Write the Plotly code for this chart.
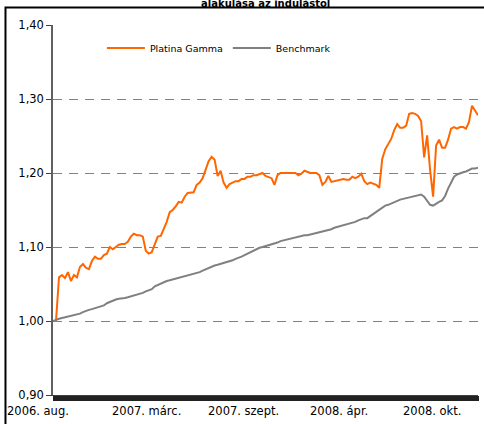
import pandas as pd
import plotly.graph_objects as go

# ---- data ----
start_date = "2006-08-16"
end_date = "2008-12-31"

platina_gamma = [
    1.000, 1.000, 1.059, 1.062, 1.058, 1.066, 1.054, 1.062, 1.059, 1.073,
    1.077, 1.072, 1.070, 1.081, 1.087, 1.084, 1.084, 1.089, 1.091, 1.100,
    1.097, 1.100, 1.103, 1.104, 1.104, 1.107, 1.114, 1.118, 1.116, 1.116,
    1.114, 1.095, 1.091, 1.093, 1.104, 1.114, 1.115, 1.124, 1.134, 1.147,
    1.150, 1.155, 1.161, 1.160, 1.168, 1.173, 1.173, 1.174, 1.184, 1.187,
    1.193, 1.205, 1.216, 1.222, 1.218, 1.196, 1.203, 1.187, 1.180, 1.185,
    1.187, 1.189, 1.189, 1.192, 1.192, 1.195, 1.195, 1.197, 1.197, 1.199,
    1.200, 1.196, 1.195, 1.193, 1.184, 1.197, 1.200, 1.200, 1.200, 1.201,
    1.200, 1.200, 1.197, 1.199, 1.203, 1.201, 1.200, 1.200, 1.200, 1.197,
    1.184, 1.188, 1.196, 1.188, 1.189, 1.191, 1.192, 1.192, 1.191, 1.191,
    1.195, 1.193, 1.195, 1.199, 1.189, 1.185, 1.187, 1.185, 1.184, 1.180,
    1.219, 1.232, 1.239, 1.246, 1.258, 1.266, 1.261, 1.261, 1.264, 1.280,
    1.281, 1.280, 1.277, 1.270, 1.221, 1.251, 1.204, 1.168, 1.237, 1.245,
    1.234, 1.234, 1.245, 1.260, 1.262, 1.260, 1.262, 1.262, 1.260, 1.269,
    1.291, 1.284, 1.278,
]

benchmark = [
    1.000, 1.002, 1.003, 1.004, 1.005, 1.006, 1.006, 1.007, 1.008, 1.010,
    1.012, 1.014, 1.015, 1.016, 1.017, 1.018, 1.019, 1.021, 1.024, 1.026,
    1.027, 1.029, 1.030, 1.030, 1.031, 1.032, 1.033, 1.034, 1.035, 1.037,
    1.038, 1.040, 1.041, 1.043, 1.047, 1.049, 1.051, 1.052, 1.054, 1.055,
    1.056, 1.057, 1.058, 1.059, 1.060, 1.061, 1.062, 1.064, 1.065, 1.066,
    1.068, 1.070, 1.072, 1.073, 1.075, 1.076, 1.077, 1.078, 1.079, 1.080,
    1.082, 1.084, 1.085, 1.087, 1.089, 1.091, 1.093, 1.095, 1.098, 1.099,
    1.100, 1.101, 1.102, 1.103, 1.105, 1.106, 1.108, 1.109, 1.110, 1.112,
    1.113, 1.114, 1.114, 1.115, 1.116, 1.116, 1.117, 1.118, 1.118, 1.119,
    1.121, 1.122, 1.123, 1.124, 1.126, 1.127, 1.129, 1.130, 1.131, 1.132,
    1.133, 1.134, 1.136, 1.138, 1.139, 1.139, 1.142, 1.145, 1.147, 1.150,
    1.153, 1.156, 1.157, 1.159, 1.160, 1.162, 1.164, 1.165, 1.166, 1.167,
    1.168, 1.169, 1.171, 1.171, 1.168, 1.163, 1.157, 1.156, 1.159, 1.161,
    1.163, 1.169, 1.179, 1.187, 1.195, 1.198, 1.200, 1.201, 1.202, 1.204,
    1.206, 1.206, 1.207,
]

series_names = ["Platina Gamma", "Benchmark"]
x_tick_labels = ["2006. aug.", "2007. márc.", "2007. szept.", "2008. ápr.", "2008. okt."]
title_text = "A Platina Gamma Alap nettó eszközértékének<br>alakulása az indulástól"

dates = pd.date_range(start_date, end_date, periods=len(platina_gamma))

FONT = "DejaVu Sans"
ORANGE = "#FF6600"
GRAY = "#808080"

fig = go.Figure()
fig.add_trace(go.Scatter(x=dates, y=platina_gamma, mode="lines", name=series_names[0],
                         line=dict(color=ORANGE, width=2)))
fig.add_trace(go.Scatter(x=dates, y=benchmark, mode="lines", name=series_names[1],
                         line=dict(color=GRAY, width=2)))

# x tick labels as annotations (Excel-style placement)
label_pos = [-0.036, 0.219, 0.448, 0.672, 0.892]
for lab, px in zip(x_tick_labels, label_pos):
    fig.add_annotation(text=lab, xref="paper", yref="paper", x=px, y=-0.043,
                       xanchor="center", yanchor="middle", showarrow=False,
                       font=dict(family=FONT, size=11.5, color="#000"))

# title (mostly cut off at the top, as in the reference)
fig.add_annotation(text="<b>" + title_text + "</b>", xref="paper", yref="paper",
                   x=0.5, y=1.038, xanchor="center", yanchor="bottom", showarrow=False,
                   font=dict(family=FONT, size=10, color="#000"))

# outer frame
fig.add_shape(type="rect", xref="paper", yref="paper", x0=-0.1118, x1=1.1, y0=-0.2, y1=1.0473,
              line=dict(color="#000", width=2), fillcolor="rgba(0,0,0,0)", layer="below")

fig.update_layout(
    width=484, height=424,
    margin=dict(l=53, r=6, t=25, b=29),
    paper_bgcolor="white", plot_bgcolor="white",
    separators=", ",
    font=dict(family=FONT, size=11.5, color="#000"),
    showlegend=True,
    legend=dict(orientation="h", x=0.115, y=0.938, xanchor="left", yanchor="middle",
                font=dict(family=FONT, size=9.5, color="#000"), bgcolor="rgba(0,0,0,0)",
                itemwidth=38, tracegroupgap=0),
)

fig.update_xaxes(
    type="date", range=[dates[0], dates[-1]],
    showgrid=False, showticklabels=False, zeroline=False,
    showline=True, linecolor="#404040", linewidth=1,
    ticks="outside", ticklen=5, tickcolor="#222",
    minor=dict(ticks="outside", ticklen=5, dtick=86400000, tickcolor="#222", tickwidth=1, showgrid=False),
)
fig.update_yaxes(
    range=[0.9, 1.4], dtick=0.1, tickformat=".2f",
    showgrid=True, gridcolor=GRAY, gridwidth=1, griddash="9px,7px",
    zeroline=False, showline=True, linecolor="#606060", linewidth=1.5,
    ticks="outside", ticklen=5, tickcolor="#404040",
    tickfont=dict(family=FONT, size=11.5, color="#000"),
)

fig.write_html("out.html", config={"displayModeBar": False},
               post_script="document.body.style.margin='0';document.body.style.overflow='hidden';")
